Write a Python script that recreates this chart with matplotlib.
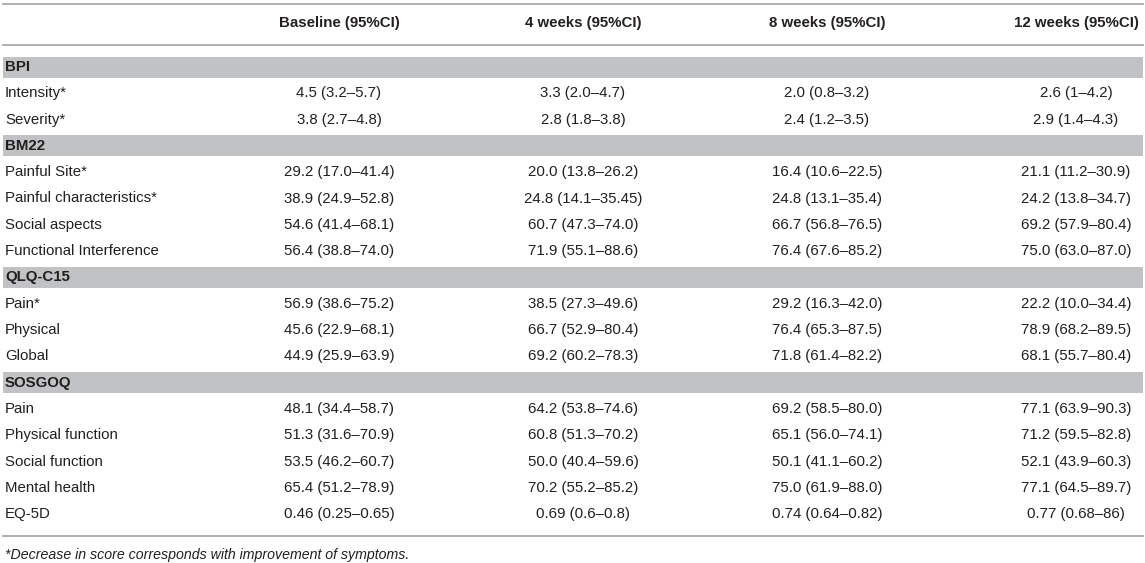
import matplotlib
matplotlib.use("Agg")
import matplotlib.pyplot as plt

plt.rcParams['font.family'] = ['Liberation Sans', 'DejaVu Sans']

columns = ["Baseline (95%CI)", "4 weeks (95%CI)", "8 weeks (95%CI)", "12 weeks (95%CI)"]

sections = ["BPI", "BM22", "QLQ-C15", "SOSGOQ"]
section_rows = [
    ["Intensity*", "Severity*"],
    ["Painful Site*", "Painful characteristics*", "Social aspects", "Functional Interference"],
    ["Pain*", "Physical", "Global"],
    ["Pain", "Physical function", "Social function", "Mental health", "EQ-5D"],
]

baseline = ["4.5 (3.2–5.7)", "3.8 (2.7–4.8)",
            "29.2 (17.0–41.4)", "38.9 (24.9–52.8)", "54.6 (41.4–68.1)", "56.4 (38.8–74.0)",
            "56.9 (38.6–75.2)", "45.6 (22.9–68.1)", "44.9 (25.9–63.9)",
            "48.1 (34.4–58.7)", "51.3 (31.6–70.9)", "53.5 (46.2–60.7)", "65.4 (51.2–78.9)",
            "0.46 (0.25–0.65)"]
week4 = ["3.3 (2.0–4.7)", "2.8 (1.8–3.8)",
         "20.0 (13.8–26.2)", "24.8 (14.1–35.45)", "60.7 (47.3–74.0)", "71.9 (55.1–88.6)",
         "38.5 (27.3–49.6)", "66.7 (52.9–80.4)", "69.2 (60.2–78.3)",
         "64.2 (53.8–74.6)", "60.8 (51.3–70.2)", "50.0 (40.4–59.6)", "70.2 (55.2–85.2)",
         "0.69 (0.6–0.8)"]
week8 = ["2.0 (0.8–3.2)", "2.4 (1.2–3.5)",
         "16.4 (10.6–22.5)", "24.8 (13.1–35.4)", "66.7 (56.8–76.5)", "76.4 (67.6–85.2)",
         "29.2 (16.3–42.0)", "76.4 (65.3–87.5)", "71.8 (61.4–82.2)",
         "69.2 (58.5–80.0)", "65.1 (56.0–74.1)", "50.1 (41.1–60.2)", "75.0 (61.9–88.0)",
         "0.74 (0.64–0.82)"]
week12 = ["2.6 (1–4.2)", "2.9 (1.4–4.3)",
          "21.1 (11.2–30.9)", "24.2 (13.8–34.7)", "69.2 (57.9–80.4)", "75.0 (63.0–87.0)",
          "22.2 (10.0–34.4)", "78.9 (68.2–89.5)", "68.1 (55.7–80.4)",
          "77.1 (63.9–90.3)", "71.2 (59.5–82.8)", "52.1 (43.9–60.3)", "77.1 (64.5–89.7)",
          "0.77 (0.68–86)"]

footnote = "*Decrease in score corresponds with improvement of symptoms."

W, H = 1145, 563
fig = plt.figure(figsize=(W / 100, H / 100), dpi=100)
ax = fig.add_axes([0, 0, 1, 1])
ax.set_xlim(0, W)
ax.set_ylim(H, 0)
ax.axis("off")

txt = "#231f20"
line_c = "#a7a9ac"
band_c = "#c1c2c4"
fs = 10.8
col_x = [339, 583, 827, 1076]
x0, x1 = 3, 1143
pitch = 26.3

# header rules and column titles
ax.plot([x0, x1], [4, 4], color=line_c, lw=1.3)
ax.plot([x0, x1], [45, 45], color=line_c, lw=1.3)
for cx, c in zip(col_x, columns):
    ax.text(cx, 23.5, c, ha="center", va="center", fontsize=fs, fontweight="bold", color=txt)

values = list(zip(baseline, week4, week8, week12))
y = 67
k = 0
for sec, rows in zip(sections, section_rows):
    ax.fill_between([x0, x1], y - 10.5, y + 10.5, color=band_c, lw=0)
    ax.text(5, y, sec, ha="left", va="center", fontsize=fs, fontweight="bold", color=txt)
    y += pitch
    for r in rows:
        ax.text(5, y, r, ha="left", va="center", fontsize=fs, color=txt)
        for cx, v in zip(col_x, values[k]):
            ax.text(cx, y, v, ha="center", va="center", fontsize=fs, color=txt)
        k += 1
        y += pitch

ax.plot([x0, x1], [535.5, 535.5], color=line_c, lw=1.3)
ax.text(5, 555, footnote, ha="left", va="center", fontsize=10.2, style="italic", color=txt)

fig.savefig("out.png", dpi=100)
